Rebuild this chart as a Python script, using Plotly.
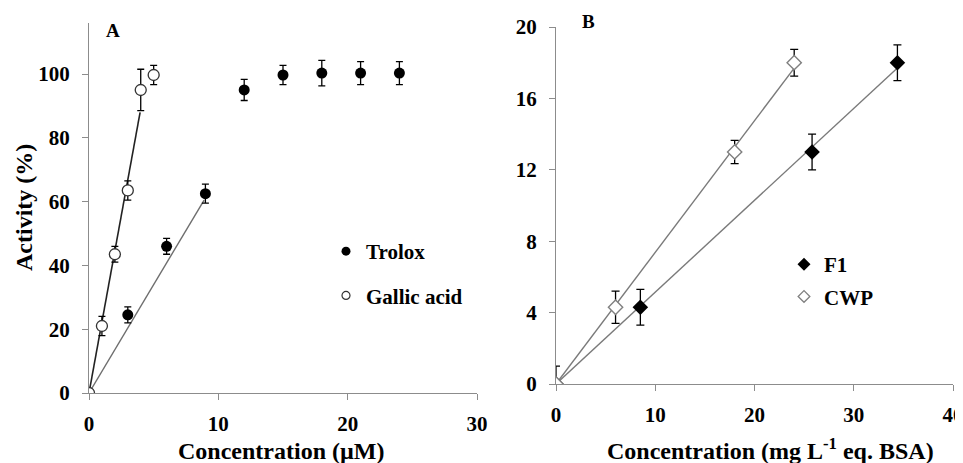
import plotly.graph_objects as go

# ---------- Panel A data ----------
trolox_x = [0, 3, 6, 9, 12, 15, 18, 21, 24]
trolox_y = [0, 24.5, 46, 62.5, 95, 99.7, 100.3, 100.3, 100.3]
trolox_err = [0, 2.5, 2.5, 3, 3.3, 3, 4, 3.6, 3.6]

gallic_x = [0, 1, 2, 3, 4, 5]
gallic_y = [0, 21, 43.5, 63.5, 95, 99.7]
gallic_err = [0, 3, 2.5, 3, 6.5, 3]

trolox_fit_x = [0, 8.9]
trolox_fit_y = [0, 60.5]
gallic_fit_x = [0, 3.95]
gallic_fit_y = [0, 88]

# ---------- Panel B data ----------
f1_x = [0, 8.5, 25.8, 34.4]
f1_y = [0, 4.3, 13, 18]
f1_err = [0, 1, 1, 1]

cwp_x = [0, 6, 18, 24]
cwp_y = [0, 4.3, 13, 18]
cwp_err = [1, 0.9, 0.65, 0.75]

f1_fit_x = [0, 34.4]
f1_fit_y = [0, 17.7]
cwp_fit_x = [0, 24]
cwp_fit_y = [0, 17.7]

x_ticks_a = [0, 10, 20, 30]
y_ticks_a = [0, 20, 40, 60, 80, 100]
x_ticks_b = [0, 10, 20, 30, 40]
y_ticks_b = [0, 4, 8, 12, 16, 20]

FONT = "Liberation Serif"
AXC = "#8c8c8c"

fig = go.Figure()

def err(vals, w):
    return dict(type="data", array=vals, visible=True, color="black", thickness=1.3, width=w)

fig.add_trace(go.Scatter(x=trolox_fit_x, y=trolox_fit_y, mode="lines",
                         line=dict(color="#6e6e6e", width=1.4), showlegend=False,
                         xaxis="x", yaxis="y", hoverinfo="skip"))
fig.add_trace(go.Scatter(x=gallic_fit_x, y=gallic_fit_y, mode="lines",
                         line=dict(color="#222222", width=1.6), showlegend=False,
                         xaxis="x", yaxis="y", hoverinfo="skip"))
fig.add_trace(go.Scatter(x=trolox_x, y=trolox_y, mode="markers", name="Trolox",
                         marker=dict(symbol="circle", size=11, color="black"),
                         error_y=err(trolox_err, 3.5), showlegend=False,
                         xaxis="x", yaxis="y"))
fig.add_trace(go.Scatter(x=gallic_x, y=gallic_y, mode="markers", name="Gallic acid",
                         marker=dict(symbol="circle", size=11, color="white",
                                     line=dict(color="#333333", width=1.3)),
                         error_y=err(gallic_err, 3.5), showlegend=False,
                         xaxis="x", yaxis="y"))
fig.add_trace(go.Scatter(x=[None], y=[None], mode="markers", name="Trolox",
                         marker=dict(symbol="circle", size=9, color="black"),
                         legend="legend", legendgroup="a1", xaxis="x", yaxis="y"))
fig.add_trace(go.Scatter(x=[None], y=[None], mode="markers", name="Gallic acid",
                         marker=dict(symbol="circle", size=8, color="white",
                                     line=dict(color="#333333", width=1.2)),
                         legend="legend", legendgroup="a2", xaxis="x", yaxis="y"))

fig.add_trace(go.Scatter(x=cwp_fit_x, y=cwp_fit_y, mode="lines",
                         line=dict(color="#7a7a7a", width=1.4), showlegend=False,
                         xaxis="x2", yaxis="y2", hoverinfo="skip"))
fig.add_trace(go.Scatter(x=f1_fit_x, y=f1_fit_y, mode="lines",
                         line=dict(color="#7a7a7a", width=1.4), showlegend=False,
                         xaxis="x2", yaxis="y2", hoverinfo="skip"))
fig.add_trace(go.Scatter(x=f1_x, y=f1_y, mode="markers", name="F1",
                         marker=dict(symbol="diamond", size=12, color="black"),
                         error_y=err(f1_err, 4), showlegend=False,
                         xaxis="x2", yaxis="y2"))
fig.add_trace(go.Scatter(x=cwp_x, y=cwp_y, mode="markers", name="CWP",
                         marker=dict(symbol="diamond", size=11, color="white",
                                     line=dict(color="#808080", width=1.4)),
                         error_y=err(cwp_err, 4), showlegend=False,
                         xaxis="x2", yaxis="y2"))
fig.add_trace(go.Scatter(x=[None], y=[None], mode="markers", name="F1",
                         marker=dict(symbol="diamond", size=10, color="black"),
                         legend="legend2", legendgroup="b1", xaxis="x2", yaxis="y2"))
fig.add_trace(go.Scatter(x=[None], y=[None], mode="markers", name="CWP",
                         marker=dict(symbol="diamond", size=9, color="white",
                                     line=dict(color="#808080", width=1.3)),
                         legend="legend2", legendgroup="b2", xaxis="x2", yaxis="y2"))

OFF = 8
W, H = 963 - OFF, 463 - OFF
def px_x(p): return (p - OFF) / W
def px_y(p): return 1 - (p - OFF) / H

tickfont = dict(family=FONT, size=21, color="black", weight="bold")
common = dict(showgrid=False, zeroline=False, showline=True, linecolor=AXC, linewidth=1.2,
              ticks="outside", ticklen=6, tickcolor=AXC, tickwidth=1.2, tickfont=tickfont,
              automargin=False, ticklabeloverflow="allow")
xcommon = dict(common, ticklabelstandoff=6)
ycommon = dict(common, ticklabelstandoff=8)
legfont = dict(family=FONT, size=21, color="black", weight="bold")

def ann(text, x, y, size, angle=0):
    return dict(text=text, x=px_x(x), y=px_y(y), xref="paper", yref="paper",
                xanchor="center", yanchor="middle", showarrow=False, textangle=angle,
                font=dict(family=FONT, size=size, color="black", weight="bold"))

fig.update_layout(
    width=W, height=H, margin=dict(l=0, r=0, t=0, b=0, autoexpand=False),
    paper_bgcolor="white", plot_bgcolor="white",
    font=dict(family=FONT, color="black"),
    xaxis=dict(domain=[px_x(89), px_x(477)], range=[0, 30], tickvals=x_ticks_a,
               anchor="y", **xcommon),
    yaxis=dict(domain=[px_y(393), px_y(23)], range=[0, 116], tickvals=y_ticks_a,
               anchor="x", **ycommon),
    xaxis2=dict(domain=[px_x(556), px_x(953)], range=[0, 40], tickvals=x_ticks_b,
                anchor="y2", **xcommon),
    yaxis2=dict(domain=[px_y(384), px_y(27)], range=[0, 20], tickvals=y_ticks_b,
                anchor="x2", **ycommon),
    legend=dict(x=px_x(326), y=px_y(231), xanchor="left", yanchor="top",
                bgcolor="rgba(0,0,0,0)", traceorder="grouped", tracegroupgap=14,
                font=legfont, itemwidth=30),
    legend2=dict(x=px_x(784), y=px_y(244), xanchor="left", yanchor="top",
                 bgcolor="rgba(0,0,0,0)", traceorder="grouped", tracegroupgap=2,
                 font=legfont, itemwidth=30),
    annotations=[
        ann("A", 113, 30, 19),
        ann("B", 588, 21, 19),
        ann("Concentration (µM)", 281, 451, 24),
        ann("Concentration (mg L<sup>-1</sup> eq. BSA)", 770, 449, 24),
        ann("Activity (%)", 24, 208, 24, -90),
    ],
)

fig.write_html("out.html")
